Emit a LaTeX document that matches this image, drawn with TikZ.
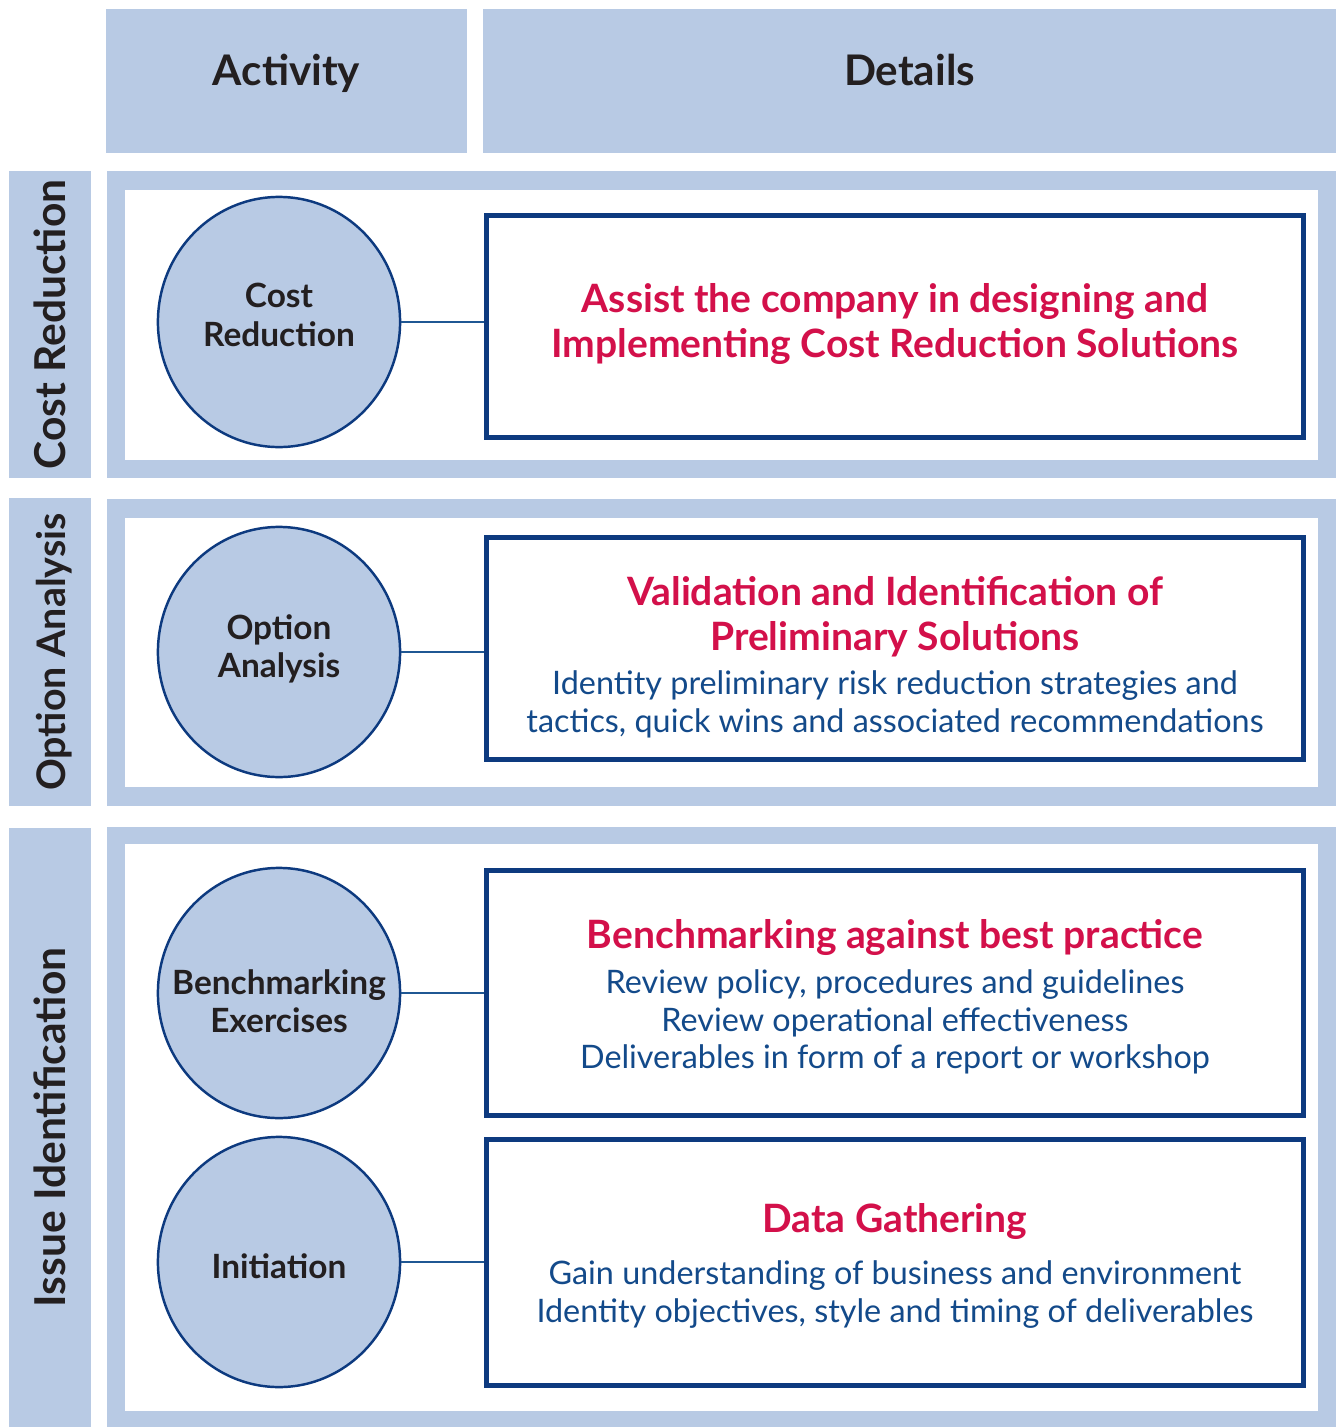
\documentclass[tikz,border=0pt]{standalone}
\usepackage{fontspec}
\usepackage{xcolor}
\setmainfont{Lato}
\usetikzlibrary{shapes.geometric}

\definecolor{bandblue}{HTML}{B8CAE4}
\definecolor{edgeblue}{HTML}{0D3A7F}
\definecolor{linkblue}{HTML}{1F5793}
\definecolor{headred}{HTML}{D3104A}
\definecolor{textblue}{HTML}{134A8A}
\definecolor{darktext}{HTML}{231F20}

\newcommand{\redfont}{\color{headred}\bfseries\fontsize{11.1}{12.8}\selectfont}

\tikzset{
	head/.style={fill=bandblue, inner sep=0pt, minimum height=1.44cm, text height=6.4pt, text depth=3.6pt, text=darktext, font=\bfseries\fontsize{12}{14}\selectfont},
	side/.style={fill=bandblue, inner sep=0pt, minimum height=0.82cm, text height=10pt, text depth=1pt, rotate=90, text=darktext, font=\bfseries\fontsize{12.1}{14}\selectfont},
	phase/.style={ellipse, draw=edgeblue, line width=0.7pt, fill=bandblue, inner sep=0pt, minimum width=2.42cm, minimum height=2.5cm},
	phasetext/.style={inner sep=0pt, align=center, text=darktext, font=\bfseries\fontsize{9.5}{10.9}\selectfont},
	detail/.style={draw=edgeblue, line width=1.4pt, fill=white, inner sep=0pt, minimum width=8.17cm},
	note/.style={inner sep=0pt, align=center, text=textblue, font=\fontsize{9.2}{10.7}\selectfont},
	link/.style={draw=linkblue, line width=0.6pt}
}

\begin{document}
\begin{tikzpicture}[x=0.01cm, y=-0.01cm]
	\useasboundingbox (0,0) rectangle (1336,1427);
	\node [head, minimum width=3.61cm] (act) at (286.5,81) {Activity};
	\node [head, minimum width=8.53cm] (det) at (909.5,81) {Details};
	\node [side, minimum width=3.07cm] (s1) at (50,324.5) {Cost Reduction};
	\node [side, minimum width=3.08cm, font=\bfseries\fontsize{11.2}{13}\selectfont] (s2) at (50,652) {Option Analysis};
	\node [side, minimum width=5.99cm] (s3) at (50,1127.5) {Issue Identification};
	\fill [bandblue] (107,171) rectangle (1336,478);
	\fill [white] (125,190) rectangle (1318,460);
	\fill [bandblue] (107,499) rectangle (1336,806);
	\fill [white] (125,518) rectangle (1318,787);
	\fill [bandblue] (107,827) rectangle (1336,1427);
	\fill [white] (125,844) rectangle (1318,1411);
	\node [phase] (p1) at (279,322) {};
	\node [phase] (p2) at (279,652) {};
	\node [phase] (p3) at (279,993) {};
	\node [phase] (p4) at (279,1262) {};
	\node [phasetext] (tp1) at (279,315) {Cost\\Reduction};
	\node [phasetext] (tp2) at (279,649) {Option\\Analysis};
	\node [phasetext] (tp3) at (279,1001) {Benchmarking\\Exercises};
	\node [phasetext] (tp4) at (279,1266) {Initiation};
	\node [detail, minimum height=2.22cm] (d1) at (895,326.5) {};
	\node [detail, minimum height=2.22cm] (d2) at (895,648.5) {};
	\node [detail, minimum height=2.45cm] (d3) at (895,993) {};
	\node [detail, minimum height=2.46cm] (d4) at (895,1262.5) {};
	\node [note] (t1) at (895,324) {{\redfont Assist the company in designing and}\\[2.1pt]
		{\redfont Implementing Cost Reduction Solutions}};
	\node [note] (t2) at (895,657) {{\redfont Validation and Identification of}\\[2.1pt]
		{\redfont Preliminary Solutions}\\[2pt]
		Identity preliminary risk reduction strategies and\\
		tactics, quick wins and associated recommendations};
	\node [note] (t3) at (895,997) {{\redfont Benchmarking against best practice}\\[2pt]
		Review policy, procedures and guidelines\\
		Review operational effectiveness\\
		Deliverables in form of a report or workshop};
	\node [note] (t4) at (895,1266) {{\redfont Data Gathering}\\[4.2pt]
		Gain understanding of business and environment\\
		Identity objectives, style and timing of deliverables};
	\draw [link] (p1.east) to (p1.east -| d1.west);
	\draw [link] (p2.east) to (p2.east -| d2.west);
	\draw [link] (p3.east) to (p3.east -| d3.west);
	\draw [link] (p4.east) to (p4.east -| d4.west);
\end{tikzpicture}
\end{document}
